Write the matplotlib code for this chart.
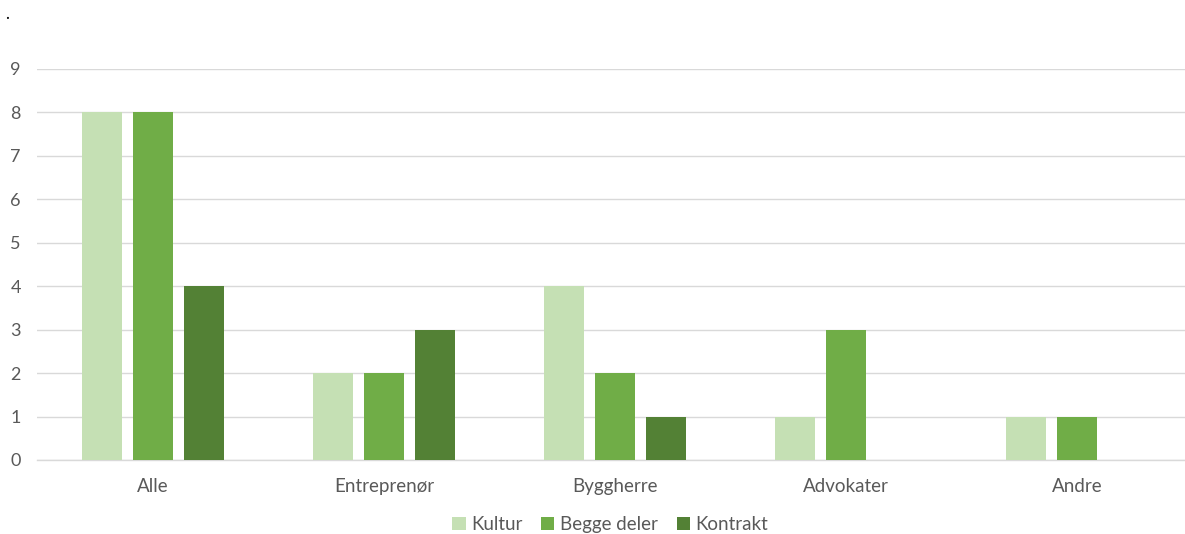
import matplotlib
matplotlib.use("Agg")
import matplotlib.pyplot as plt
from matplotlib.patches import Patch
import numpy as np

categories = ["Alle", "Entreprenør", "Byggherre", "Advokater", "Andre"]
series_names = ["Kultur", "Begge deler", "Kontrakt"]
kultur = [8, 2, 4, 1, 1]
begge_deler = [8, 2, 2, 3, 1]
kontrakt = [4, 3, 1, 0, 0]
y_ticks = [0, 1, 2, 3, 4, 5, 6, 7, 8, 9]

colors = ["#C5E0B4", "#70AD47", "#538135"]
text_color = "#595959"
grid_color = "#D9D9D9"

plt.rcParams["font.family"] = ["Lato", "DejaVu Sans"]

fig = plt.figure(figsize=(11.85, 5.34), dpi=100)
# plot area runs slightly past the right edge of the figure
ax = fig.add_axes([0.0316, 0.1386, 0.9747, 0.7322])

x = np.arange(len(categories))
width = 0.173
step = 0.221
for i, (vals, col, name) in enumerate(zip([kultur, begge_deler, kontrakt], colors, series_names)):
    ax.bar(x + (i - 1) * step, vals, width=width, color=col, label=name, zorder=3)

ax.set_xlim(-0.5, len(categories) - 0.5)
ax.set_ylim(0, 9)
ax.set_yticks(y_ticks)
ax.set_xticks(x)
ax.set_xticklabels(categories)
ax.yaxis.grid(True, color=grid_color, linewidth=1, zorder=0)
ax.set_axisbelow(True)
for s in ["top", "right", "left"]:
    ax.spines[s].set_visible(False)
ax.spines["bottom"].set_color(grid_color)
ax.spines["bottom"].set_linewidth(1)
ax.tick_params(axis="both", length=0, colors=text_color)
ax.tick_params(axis="y", pad=12, labelsize=13)
ax.tick_params(axis="x", pad=13, labelsize=13.5)

handles = [Patch(facecolor=c, label=n) for c, n in zip(colors, series_names)]
fig.legend(handles=handles, loc="center", bbox_to_anchor=(0.515, 0.017), ncol=3,
           frameon=False, fontsize=13.5, labelcolor=text_color,
           handlelength=0.7, handleheight=0.7, handletextpad=0.3, columnspacing=1.0)

fig.text(0.004, 0.965, ".", fontsize=12, color="black")

fig.savefig("out.png", dpi=100, facecolor="white")
